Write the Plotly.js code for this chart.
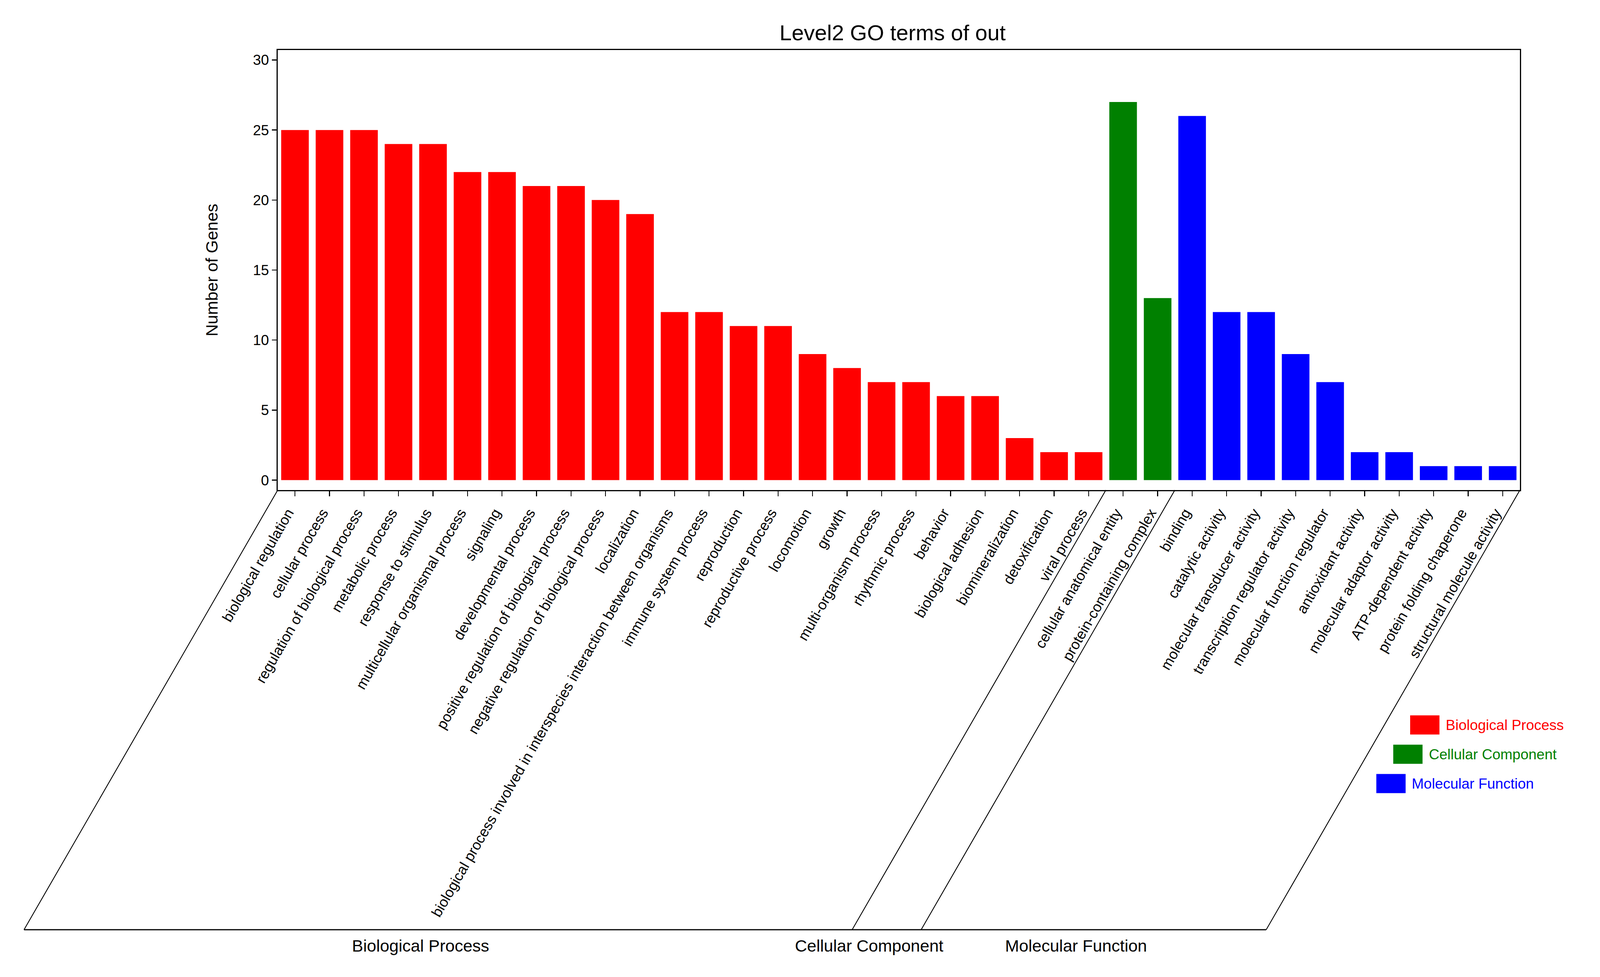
<!DOCTYPE html>
<html><head><meta charset="utf-8">
<script src="https://cdn.plot.ly/plotly-3.0.1.min.js"></script>
<style>html,body{margin:0;padding:0;background:#fff}</style>
</head><body><div id="chart" style="width:4374px;height:2500px"></div>
<script>
const categories = [
  'biological regulation','cellular process','regulation of biological process','metabolic process',
  'response to stimulus','multicellular organismal process','signaling','developmental process',
  'positive regulation of biological process','negative regulation of biological process','localization',
  'biological process involved in interspecies interaction between organisms','immune system process',
  'reproduction','reproductive process','locomotion','growth','multi-organism process','rhythmic process',
  'behavior','biological adhesion','biomineralization','detoxification','viral process',
  'cellular anatomical entity','protein-containing complex',
  'binding','catalytic activity','molecular transducer activity','transcription regulator activity',
  'molecular function regulator','antioxidant activity','molecular adaptor activity','ATP-dependent activity',
  'protein folding chaperone','structural molecule activity'
];
const geneCounts = [
  25,25,25,24,24,22,22,21,21,20,19,12,12,11,11,9,8,7,7,6,6,3,2,2,
  27,13,
  26,12,12,9,7,2,2,1,1,1
];
const ontologyIndex = [
  0,0,0,0,0,0,0,0,0,0,0,0,0,0,0,0,0,0,0,0,0,0,0,0,
  1,1,
  2,2,2,2,2,2,2,2,2,2
];
const groupNames = ['Biological Process','Cellular Component','Molecular Function'];
const groupColors = ['#FF0000','#008000','#0000FF'];
const yTickValues = [0,5,10,15,20,25,30];
const chartTitle = 'Level2 GO terms of out';
const yTitle = 'Number of Genes';

const FONT = 'Liberation Sans, Arial, sans-serif';
const W = 4374, H = 2500;
const M = {l:711, r:483, t:128, b:1246};
const pw = W - M.l - M.r, ph = H - M.t - M.b;
const xr = [-0.5, categories.length - 0.5];
const yr = [-0.71, 30.71];
const axisPy = H - M.b;          // px of x axis line
const bottomPy = 2379;           // px of bracket base line
const labelPy = 2457;            // px where group label centres sit on the slant
const tanA = Math.tan(Math.PI/6);

const dataToPx = v => M.l + (v - xr[0]) / (xr[1] - xr[0]) * pw;
const px2paperX = px => (px - M.l) / pw;
const py2paperY = py => (axisPy - py) / ph;

// group boundaries in category-index units
const bounds = [xr[0]];
for (let i = 1; i < ontologyIndex.length; i++) {
  if (ontologyIndex[i] !== ontologyIndex[i-1]) bounds.push(i - 0.5);
}
bounds.push(xr[1]);

const shapes = [];
const annotations = [];
const slantDx = (bottomPy - axisPy) * tanA;
bounds.forEach(b => {
  const topPx = dataToPx(b);
  shapes.push({type:'line', xref:'paper', yref:'paper',
    x0: px2paperX(topPx), y0: 0, x1: px2paperX(topPx - slantDx), y1: py2paperY(bottomPy),
    line:{color:'#000', width:2.2}});
});
shapes.push({type:'line', xref:'paper', yref:'paper',
  x0: px2paperX(dataToPx(bounds[0]) - slantDx), y0: py2paperY(bottomPy),
  x1: px2paperX(dataToPx(bounds[bounds.length-1]) - slantDx), y1: py2paperY(bottomPy),
  line:{color:'#000', width:3}});

for (let g = 0; g < groupNames.length; g++) {
  const a = dataToPx(bounds[g]), c = dataToPx(bounds[g+1]);
  const cx = (a + c) / 2 - (labelPy - axisPy) * tanA;
  annotations.push({xref:'paper', yref:'paper', x: px2paperX(cx), y: py2paperY(2420),
    xanchor:'center', yanchor:'middle', showarrow:false, text: groupNames[g],
    font:{family:FONT, size:43, color:'#000'}});
}

// legend laid along the right slant
for (let g = 0; g < groupNames.length; g++) {
  const cy = 1855 + 75 * g;
  const left = 3610 - 75 * g * tanA;
  shapes.push({type:'rect', xref:'paper', yref:'paper',
    x0: px2paperX(left), x1: px2paperX(left + 75),
    y0: py2paperY(cy + 24.5), y1: py2paperY(cy - 24.5),
    fillcolor: groupColors[g], line:{width:0}});
  annotations.push({xref:'paper', yref:'paper', x: px2paperX(left + 89), y: py2paperY(cy),
    xanchor:'left', yanchor:'middle', showarrow:false, text: groupNames[g],
    font:{family:FONT, size:37, color: groupColors[g]}});
}

const trace = {
  type:'bar', x: categories, y: geneCounts,
  marker:{color: ontologyIndex.map(i => groupColors[i]), line:{width:0}},
  showlegend:false, hoverinfo:'x+y'
};

const layout = {
  width: W, height: H, margin: M,
  paper_bgcolor:'#fff', plot_bgcolor:'#fff',
  font:{family:FONT, color:'#000'},
  bargap: 0.2,
  title:{text: chartTitle, font:{family:FONT, size:56, color:'#000'},
    xref:'paper', x: px2paperX(2285), xanchor:'center',
    yref:'container', y: 1 - 83/H, yanchor:'middle'},
  xaxis:{type:'category', range: xr, showline:true, mirror:true, linecolor:'#000', linewidth:3,
    ticks:'outside', ticklen:13, tickwidth:2.5, tickcolor:'#000', tickangle:-60,
    ticklabelshift:-18, ticklabelstandoff:6,
    tickfont:{family:FONT, size:37, color:'#000'}, showgrid:false, zeroline:false,
    automargin:false, dtick:1},
  yaxis:{range: yr, showline:true, mirror:true, linecolor:'#000', linewidth:3,
    ticks:'outside', ticklen:12, tickwidth:2.5, tickcolor:'#000',
    tickmode:'array', tickvals: yTickValues, ticktext: yTickValues.map(String),
    tickfont:{family:FONT, size:37, color:'#000'}, showgrid:false, zeroline:false,
    title:{text: yTitle, font:{family:FONT, size:43, color:'#000'}, standoff:77},
    automargin:false},
  shapes, annotations
};

Plotly.newPlot('chart', [trace], layout, {displayModeBar:false, staticPlot:true});
</script>
</body></html>
